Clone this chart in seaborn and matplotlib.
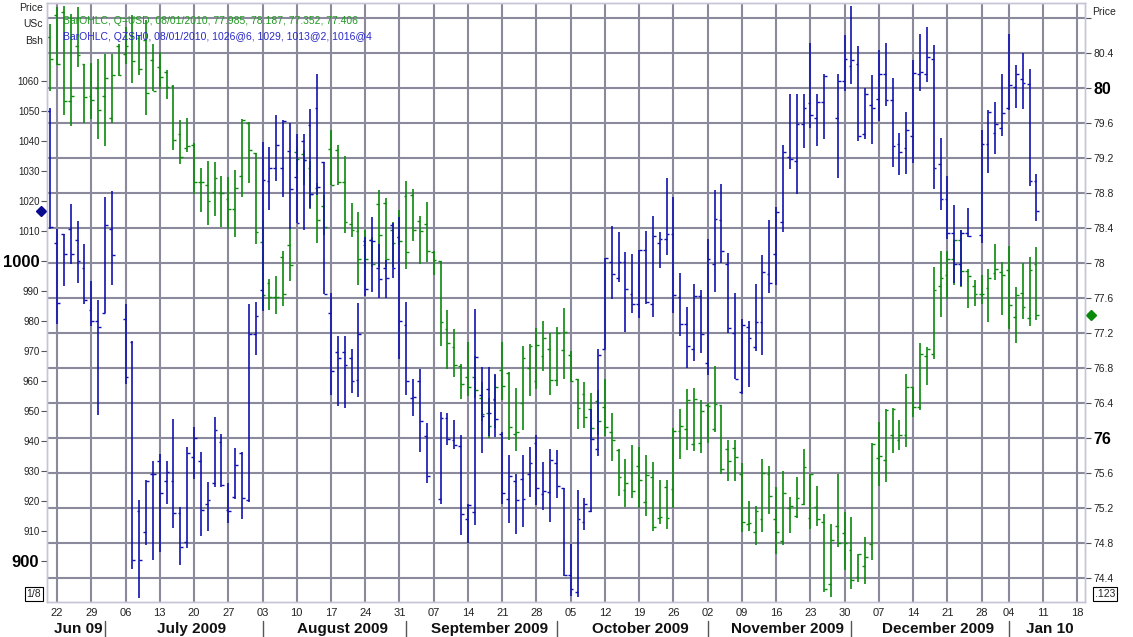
import numpy as np
import pandas as pd
import matplotlib
matplotlib.use("Agg")
import matplotlib.pyplot as plt
import seaborn as sns

nan = np.nan

# time axis: one slot per trading day, no slot for 1 Jan 2010
axis_days = pd.bdate_range("2009-06-19", "2010-01-22")
axis_days = axis_days[axis_days != pd.Timestamp("2010-01-01")]
n_bars = 145

# Q=USD, right scale
usd_open = [80.58, 80.83, 80.87, 79.85, 80.48, 80.27, 79.91, 80.00, 79.91, 79.66,
            80.48, 80.39, 80.59, 80.57, 80.55, 80.32, 80.24, 80.18, 80.02, 79.47,
            79.31, 79.35, 78.92, 78.89, 78.81, 78.80, 78.73, 78.62, 78.99, 79.60,
            79.26, 78.24, 77.77, 77.61, 78.07, 78.21, 79.27, 79.24, 79.08, 78.86,
            78.65, 79.30, 79.29, 78.93, 78.45, 78.36, 78.21, 78.26, 78.67, 78.68,
            78.38, 78.30, 78.77, 78.78, 78.48, 78.44, 78.12, 78.02, 77.24, 77.04,
            76.82, 76.70, 76.70, 76.46, 76.29, 76.44, 76.78, 76.74, 76.05, 76.40,
            76.80, 76.65, 76.94, 77.02, 76.66, 77.01, 76.95, 76.67, 76.50, 76.33,
            76.42, 76.36, 76.07, 75.86, 75.41, 75.60, 75.68, 75.27, 75.55, 75.09,
            75.44, 75.42, 76.08, 76.10, 75.93, 75.94, 76.38, 76.10, 76.38, 75.88,
            75.89, 75.59, 75.02, 74.93, 75.07, 75.59, 75.08, 74.82, 75.20, 75.11,
            75.25, 75.09, 75.21, 75.04, 74.33, 75.00, 74.92, 74.72, 74.41, 74.54,
            74.79, 75.77, 75.75, 76.04, 75.98, 76.03, 76.58, 76.36, 76.94, 76.96,
            77.74, 77.86, 78.04, 78.26, 77.91, 77.74, 77.64, 77.71, 77.88, 77.90,
            77.92, 77.38, 77.66, 77.37, 77.985]
usd_high = [80.73, 80.93, 80.94, 80.85, 80.92, 80.27, 80.28, 80.33, 80.39, 80.39,
            80.50, 80.70, 80.83, 80.61, 80.78, 80.50, 80.41, 80.20, 80.03, 79.63,
            79.66, 79.37, 79.08, 79.16, 79.15, 78.99, 78.98, 79.06, 79.65, 79.61,
            79.26, 78.49, 77.82, 77.85, 78.14, 78.41, 79.32, 79.29, 79.17, 78.91,
            78.78, 79.52, 79.35, 79.22, 78.68, 78.58, 78.38, 78.30, 78.83, 78.74,
            78.47, 78.60, 78.94, 78.84, 78.54, 78.70, 78.14, 78.02, 77.46, 77.25,
            76.85, 77.10, 76.94, 76.64, 76.46, 76.72, 77.10, 76.75, 76.57, 77.05,
            77.07, 77.26, 77.34, 77.20, 77.27, 77.48, 76.99, 76.68, 76.64, 76.51,
            76.55, 76.67, 76.29, 75.87, 75.76, 75.92, 75.90, 75.81, 75.73, 75.52,
            75.52, 76.11, 76.33, 76.56, 76.57, 76.43, 76.40, 76.82, 76.38, 75.98,
            75.98, 75.72, 75.28, 75.22, 75.76, 75.68, 75.44, 75.62, 75.33, 75.55,
            75.87, 75.59, 75.45, 75.13, 75.02, 75.59, 75.15, 75.10, 74.68, 74.87,
            75.94, 76.18, 76.33, 76.34, 76.21, 76.73, 76.58, 77.09, 77.04, 77.95,
            78.14, 78.14, 78.26, 78.38, 77.93, 77.80, 77.86, 77.93, 78.22, 78.01,
            78.19, 77.72, 78.00, 78.07, 78.187]
usd_low = [79.97, 80.26, 79.69, 79.56, 80.24, 79.60, 79.65, 79.42, 79.34, 79.60,
           80.14, 80.27, 80.06, 80.15, 79.69, 79.96, 79.99, 79.87, 79.29, 79.13,
           79.27, 78.79, 78.58, 78.43, 78.54, 78.41, 78.39, 78.30, 78.75, 78.91,
           78.22, 77.46, 77.46, 77.42, 77.51, 77.79, 79.02, 78.89, 78.62, 78.23,
           78.32, 78.89, 78.89, 78.34, 78.30, 77.75, 77.95, 77.95, 77.95, 77.95,
           77.95, 78.21, 77.93, 78.25, 77.99, 78.01, 77.86, 77.05, 76.79, 76.70,
           76.45, 76.48, 76.46, 76.20, 76.00, 76.11, 76.44, 75.98, 75.85, 76.09,
           76.48, 76.56, 76.77, 76.49, 76.60, 76.68, 76.64, 76.10, 76.12, 75.98,
           76.03, 76.02, 75.74, 75.34, 75.21, 75.31, 75.20, 75.11, 74.94, 75.02,
           74.96, 75.20, 75.76, 75.86, 75.85, 75.83, 75.94, 76.07, 75.59, 75.51,
           75.51, 74.93, 74.94, 74.78, 74.93, 75.13, 74.68, 74.78, 74.91, 75.09,
           75.24, 74.96, 75.00, 74.24, 74.18, 74.76, 74.49, 74.28, 74.36, 74.33,
           74.61, 75.45, 75.50, 75.83, 75.86, 75.90, 76.24, 76.32, 76.61, 76.90,
           77.38, 77.59, 77.75, 77.73, 77.49, 77.51, 77.53, 77.32, 77.80, 77.40,
           77.25, 77.08, 77.36, 77.28, 77.352]
usd_close = [80.33, 80.27, 79.85, 79.91, 80.38, 79.90, 79.86, 79.75, 80.11, 80.15,
             80.15, 80.48, 80.31, 80.22, 79.94, 79.97, 80.13, 80.01, 79.40, 79.21,
             79.34, 78.92, 78.92, 78.71, 78.97, 78.80, 78.62, 78.86, 79.63, 79.29,
             78.35, 77.63, 77.61, 77.61, 77.64, 77.98, 79.19, 79.18, 78.79, 78.49,
             78.41, 78.89, 78.93, 78.47, 78.38, 78.04, 78.04, 77.99, 78.32, 78.04,
             78.23, 78.25, 78.12, 78.38, 78.37, 78.14, 78.03, 77.32, 77.09, 76.83,
             76.62, 76.58, 76.55, 76.27, 76.14, 76.58, 76.59, 76.13, 76.07, 76.91,
             77.05, 77.06, 77.14, 76.66, 77.20, 77.21, 76.65, 76.34, 76.24, 76.11,
             76.20, 76.13, 75.98, 75.55, 75.49, 75.40, 75.52, 75.58, 74.98, 75.10,
             75.09, 76.08, 76.14, 76.44, 76.45, 76.31, 76.37, 76.39, 75.65, 75.74,
             75.78, 75.04, 75.03, 75.17, 75.60, 75.34, 74.93, 75.37, 75.22, 75.31,
             75.67, 75.59, 75.07, 74.28, 74.84, 74.80, 74.80, 74.38, 74.68, 74.64,
             75.93, 75.79, 76.32, 76.33, 76.04, 76.58, 76.35, 76.96, 77.02, 77.69,
             77.83, 78.04, 78.26, 77.91, 77.85, 77.64, 77.64, 77.83, 77.93, 77.86,
             77.52, 77.63, 77.50, 77.92, 77.406]

# QZSH0, left scale (nan where the exchange was shut)
bsh_open = [1050.1, 1006.1, 1009.0, 1010.6, 1007.1, 997.8, 983.6, 980.0, 982.8, 1010.6,
            nan, 980.6, 973.0, 916.7, 909.8, 929.1, 933.4, 926.8, 926.8, 916.1,
            906.4, 934.8, 933.4, 919.0, 925.9, 939.5, 917.0, 921.2, 936.1, 920.4,
            975.5, 990.2, 1026.5, 1031.0, 1031.0, 1036.7, 1028.0, 1039.9, 1045.2, 1051.0,
            1032.9, 982.8, 969.6, 969.6, 967.5, 960.3, 1006.8, 1007.0, 997.8, 997.8,
            1011.9, 1008.0, 978.7, 954.3, 959.9, 941.8, nan, 920.8, 947.5, 940.3,
            938.2, 914.0, 916.3, 955.2, 957.3, 953.9, 942.4, 920.8, 926.5, 927.2,
            929.1, 939.3, 922.3, 923.0, 932.6, 924.2, 895.3, 889.8, 913.1, 916.6,
            937.3, 970.5, 999.8, 994.3, 999.5, 988.9, 985.7, 1003.6, 985.7, 1006.1,
            1007.4, 1008.9, 987.9, 979.0, 970.8, 988.2, 966.0, 998.9, 1013.8, 999.1,
            975.9, 956.2, 978.1, 971.3, 979.6, 995.5, 1002.3, 1012.9, 1034.5, 1033.2,
            1045.6, 1052.6, 1047.5, 1052.9, nan, 1047.8, 1059.9, 1065.1, 1065.6, 1042.2,
            1052.0, 1053.9, 1062.2, 1053.6, 1038.9, 1037.6, 1041.8, 1062.2, 1062.2, 1067.3,
            1032.2, 1020.8, 1009.3, 999.1, 1009.3, nan, 1008.7, 1038.9, 1042.7, 1044.3,
            1051.1, 1058.0, 1060.5, 1059.0, 1026.75]
bsh_high = [1051.0, 1010.6, 1009.0, 1019.1, 1013.4, 1005.5, 993.4, 987.0, 1021.4, 1023.3,
            nan, 985.7, 973.3, 920.4, 927.0, 933.4, 935.7, 933.4, 947.3, 918.1,
            938.1, 944.7, 936.4, 926.4, 947.9, 942.2, 926.1, 937.6, 936.4, 985.7,
            986.4, 1039.6, 1038.0, 1048.8, 1047.1, 1046.0, 1042.4, 1042.4, 1050.7, 1062.2,
            1032.9, 989.2, 975.0, 975.0, 970.5, 986.1, 1008.0, 1014.7, 1005.5, 1000.4,
            1012.7, 1014.7, 986.4, 960.5, 964.1, 945.9, nan, 949.8, 949.4, 946.9,
            942.0, 918.9, 984.1, 964.7, 964.7, 962.2, 943.1, 935.4, 929.1, 935.4,
            938.0, 942.1, 933.1, 937.3, 937.1, 924.3, 905.5, 923.6, 921.0, 950.7,
            970.5, 1001.0, 1011.6, 1009.6, 1002.9, 1002.3, 1003.6, 1009.9, 1015.0, 1009.7,
            1027.8, 1021.4, 995.9, 984.5, 992.4, 990.2, 1007.4, 1023.7, 1025.5, 1002.7,
            989.3, 980.6, 980.0, 992.4, 1001.9, 1013.8, 1018.0, 1038.6, 1055.5, 1055.5,
            1055.5, 1072.6, 1055.8, 1062.2, nan, 1062.2, 1075.3, 1085.1, 1071.7, 1057.7,
            1061.9, 1070.2, 1072.6, 1060.9, 1042.7, 1049.8, 1067.0, 1075.8, 1078.1, 1072.0,
            1040.9, 1028.4, 1018.6, 1010.2, 1017.6, nan, 1043.7, 1050.3, 1053.0, 1062.2,
            1075.8, 1065.3, 1069.4, 1064.1, 1029.0]
bsh_low = [1010.6, 979.0, 991.5, 998.9, 992.7, 985.7, 978.4, 948.8, 982.6, 992.1,
           nan, 959.0, 897.2, 887.7, 905.4, 900.3, 903.1, 919.0, 911.1, 898.6,
           904.2, 927.3, 908.4, 910.1, 924.6, 924.7, 912.8, 920.5, 913.9, 919.8,
           968.5, 983.2, 1016.9, 1026.5, 1021.4, 1010.6, 1012.5, 1010.2, 1017.6, 1022.0,
           988.9, 955.2, 951.6, 951.0, 956.1, 954.8, 988.3, 989.6, 987.7, 987.7,
           994.3, 967.3, 955.2, 948.4, 936.3, 926.1, nan, 919.1, 938.6, 937.3,
           908.7, 906.1, 911.9, 936.1, 941.8, 941.2, 919.1, 912.5, 908.9, 911.2,
           921.2, 918.5, 917.0, 913.1, 921.0, 894.9, 888.3, 888.0, 910.2, 916.3,
           935.0, 970.5, 987.3, 993.0, 976.4, 982.6, 981.0, 985.7, 981.3, 997.8,
           1001.9, 982.6, 975.0, 964.3, 966.6, 969.2, 961.9, 989.6, 999.4, 975.9,
           960.5, 955.8, 958.1, 970.1, 968.5, 989.2, 992.1, 1009.7, 1030.7, 1022.3,
           1037.6, 1044.3, 1038.2, 1040.5, nan, 1027.5, 1056.8, 1059.0, 1039.9, 1040.5,
           1039.0, 1046.5, 1051.6, 1031.3, 1028.7, 1029.0, 1032.6, 1056.7, 1059.6, 1024.0,
           1017.0, 1007.4, 992.5, 991.5, 1008.0, nan, 1006.1, 1029.3, 1035.8, 1041.5,
           1050.4, 1051.0, 1050.7, 1025.0, 1013.25]
bsh_close = [1011.2, 986.0, 1002.3, 1002.3, 1000.0, 987.0, 980.0, 978.1, 1011.9, 1001.9,
             nan, 961.2, 900.4, 900.3, 926.5, 929.1, 922.6, 929.8, 916.1, 904.5,
             936.1, 940.9, 917.0, 920.3, 943.7, 925.4, 916.8, 932.0, 920.9, 975.5,
             981.5, 1027.1, 1031.0, 1038.6, 1046.5, 1024.0, 1012.5, 1033.8, 1022.3, 1024.6,
             988.9, 963.2, 967.5, 965.4, 960.0, 975.5, 990.6, 1006.5, 994.0, 994.3,
             997.8, 980.0, 960.0, 954.5, 946.5, 928.4, nan, 947.5, 940.5, 938.6,
             915.7, 918.5, 967.9, 948.4, 949.2, 947.2, 922.7, 928.4, 920.4, 920.8,
             932.6, 924.2, 923.3, 933.5, 925.0, 895.3, 890.5, 914.0, 918.9, 940.5,
             968.5, 1001.0, 995.5, 999.5, 990.8, 985.7, 1003.6, 986.4, 1008.4, 1007.4,
             1008.9, 988.7, 979.0, 971.7, 988.2, 975.5, 1000.6, 1014.1, 1003.3, 977.5,
             960.5, 978.7, 974.3, 979.6, 996.3, 992.7, 1016.3, 1036.4, 1034.1, 1045.6,
             1051.1, 1048.8, 1052.9, 1061.8, nan, 1059.9, 1067.3, 1067.0, 1041.8, 1055.5,
             1051.1, 1062.2, 1053.5, 1038.3, 1036.4, 1043.7, 1062.8, 1063.1, 1067.9, 1031.0,
             1020.8, 1009.3, 999.1, 1009.3, 1008.4, nan, 1038.9, 1049.7, 1045.6, 1049.4,
             1058.7, 1062.4, 1059.2, 1026.5, 1016.5]

month_names = ["Jun 09", "July 2009", "August 2009", "September 2009",
               "October 2009", "November 2009", "December 2009", "Jan 10"]
left_ticks = list(range(900, 1061, 10))
right_ticks = np.round(np.arange(74.4, 80.81, 0.4), 1)

usd_label = "BarOHLC, Q=USD, 08/01/2010, 77.985, 78.187, 77.352, 77.406"
bsh_label = "BarOHLC, QZSH0, 08/01/2010, 1026@6, 1029, 1013@2, 1016@4"

GREEN = "#0b8a0b"
BLUE = "#1212b0"
GRID = "#8b8a9c"

sns.set_theme(style="white")
plt.rcParams["font.family"] = ["Liberation Sans", "DejaVu Sans"]

usd = pd.DataFrame({"pos": np.arange(n_bars), "o": usd_open, "h": usd_high,
                    "l": usd_low, "c": usd_close})
bsh = pd.DataFrame({"pos": np.arange(n_bars), "o": bsh_open, "h": bsh_high,
                    "l": bsh_low, "c": bsh_close}).dropna()


def ohlc(ax, df, color):
    ax.vlines(df.pos, df.l, df.h, color=color, lw=1.2)
    ax.hlines(df.o, df.pos - 0.4, df.pos, color=color, lw=1.0)
    ax.hlines(df.c, df.pos, df.pos + 0.4, color=color, lw=1.0)


fig = plt.figure(figsize=(11.33, 6.37), dpi=100)
fig.patch.set_facecolor("white")
ax = fig.add_axes([47 / 1133, 35 / 637, 1038 / 1133, 599 / 637])
ax2 = ax.twinx()

ohlc(ax, usd, GREEN)
ohlc(ax2, bsh, BLUE)

ax.set_xlim(-0.47, 151.1)
ax.set_ylim(74.126, 80.971)
ax2.set_ylim(886.33, 1086.0)

# weekly grid on mondays, small marks at month starts
mondays = np.where(axis_days.dayofweek == 0)[0]
ax.set_xticks(mondays)
ax.set_xticklabels([axis_days[i].strftime("%d") for i in mondays])
month_start = [i for i in range(1, len(axis_days)) if axis_days[i].month != axis_days[i - 1].month]
ax.set_xticks(month_start, minor=True)
ax.tick_params(axis="x", which="major", length=0, pad=4, labelsize=8, labelcolor="#222222")
ax.tick_params(axis="x", which="minor", length=3, width=1, color="#333333")

# right scale (Q=USD) carries the horizontal grid
ax.set_yticks(right_ticks)
ax.set_yticklabels(["" if v > 80.5 else f"{v:g}" for v in right_ticks])
ax.yaxis.set_ticks_position("right")
ax.tick_params(axis="y", length=4, width=0.8, color="#555555", pad=2,
               labelsize=7.5, labelcolor="#222222", left=False, labelleft=False,
               right=True, labelright=True)
for lab, v in zip(ax.get_yticklabels(), right_ticks):
    if v in (80.0, 76.0):
        lab.set_fontsize(11.5)
        lab.set_fontweight("bold")
        lab.set_color("black")

ax.grid(True, which="major", color=GRID, lw=1.5)
ax.set_axisbelow(True)

# left scale (QZSH0)
ax2.set_yticks(left_ticks)
ax2.set_yticklabels([str(v) for v in left_ticks])
ax2.yaxis.set_ticks_position("left")
ax2.tick_params(axis="y", length=4.5, width=0.8, color="#555555", pad=1,
                labelsize=7, labelcolor="#222222", left=True, labelleft=True,
                right=False, labelright=False)
for lab, v in zip(ax2.get_yticklabels(), left_ticks):
    if v % 100 == 0:
        lab.set_fontsize(12)
        lab.set_fontweight("bold")
        lab.set_color("black")
ax2.grid(False)

for a in (ax, ax2):
    for s in a.spines.values():
        s.set_color("#c6c5d6")
        s.set_linewidth(1.0)
ax2.patch.set_visible(False)

# month names under the day numbers, with separators
bounds = [ax.get_xlim()[0]] + month_start + [ax.get_xlim()[1]]
trans = ax.get_xaxis_transform()
for k, name in enumerate(month_names):
    shift = 1.2 if 0 < k < len(month_names) - 1 else 0.4
    mid = (bounds[k] + bounds[k + 1]) / 2 + shift
    ax.text(mid, -0.045, name, transform=trans, ha="center", va="center",
            fontsize=11, fontweight="bold", color="#111111", clip_on=False)
for m in month_start:
    ax.plot([m, m], [-0.032, -0.06], transform=trans, color="#555555", lw=1, clip_on=False)

# last close markers on both scales
ax2.plot([-0.006], [bsh_close[-1]], marker="D", ms=5, color="#0a0a90",
         transform=ax2.get_yaxis_transform(), clip_on=False)
ax.plot([1.006], [usd_close[-1]], marker="D", ms=5, color="#0a8a0a",
        transform=ax.get_yaxis_transform(), clip_on=False)

# headers and labels
fig.text(43 / 1133, 1 - 8 / 637, "Price", ha="right", va="center", fontsize=7.5, color="#222222")
fig.text(43 / 1133, 1 - 24 / 637, "USc", ha="right", va="center", fontsize=7.5, color="#222222")
fig.text(43 / 1133, 1 - 41 / 637, "Bsh", ha="right", va="center", fontsize=7.5, color="#222222")
fig.text(1092 / 1133, 1 - 12 / 637, "Price", ha="left", va="center", fontsize=7.5, color="#222222")
fig.text(63 / 1133, 1 - 21 / 637, usd_label, ha="left", va="center", fontsize=7.5, color="#229922")
fig.text(63 / 1133, 1 - 37 / 637, bsh_label, ha="left", va="center", fontsize=7.5, color="#2a2ac8")
box = dict(boxstyle="square,pad=0.15", fc="white", ec="black", lw=0.8)
fig.text(41 / 1133, 1 - 594 / 637, "1/8", ha="right", va="center", fontsize=7.5, bbox=box)
fig.text(1095 / 1133, 1 - 594 / 637, ".123", ha="left", va="center", fontsize=7.5, bbox=box)

fig.savefig("out.png", dpi=100, facecolor="white")
